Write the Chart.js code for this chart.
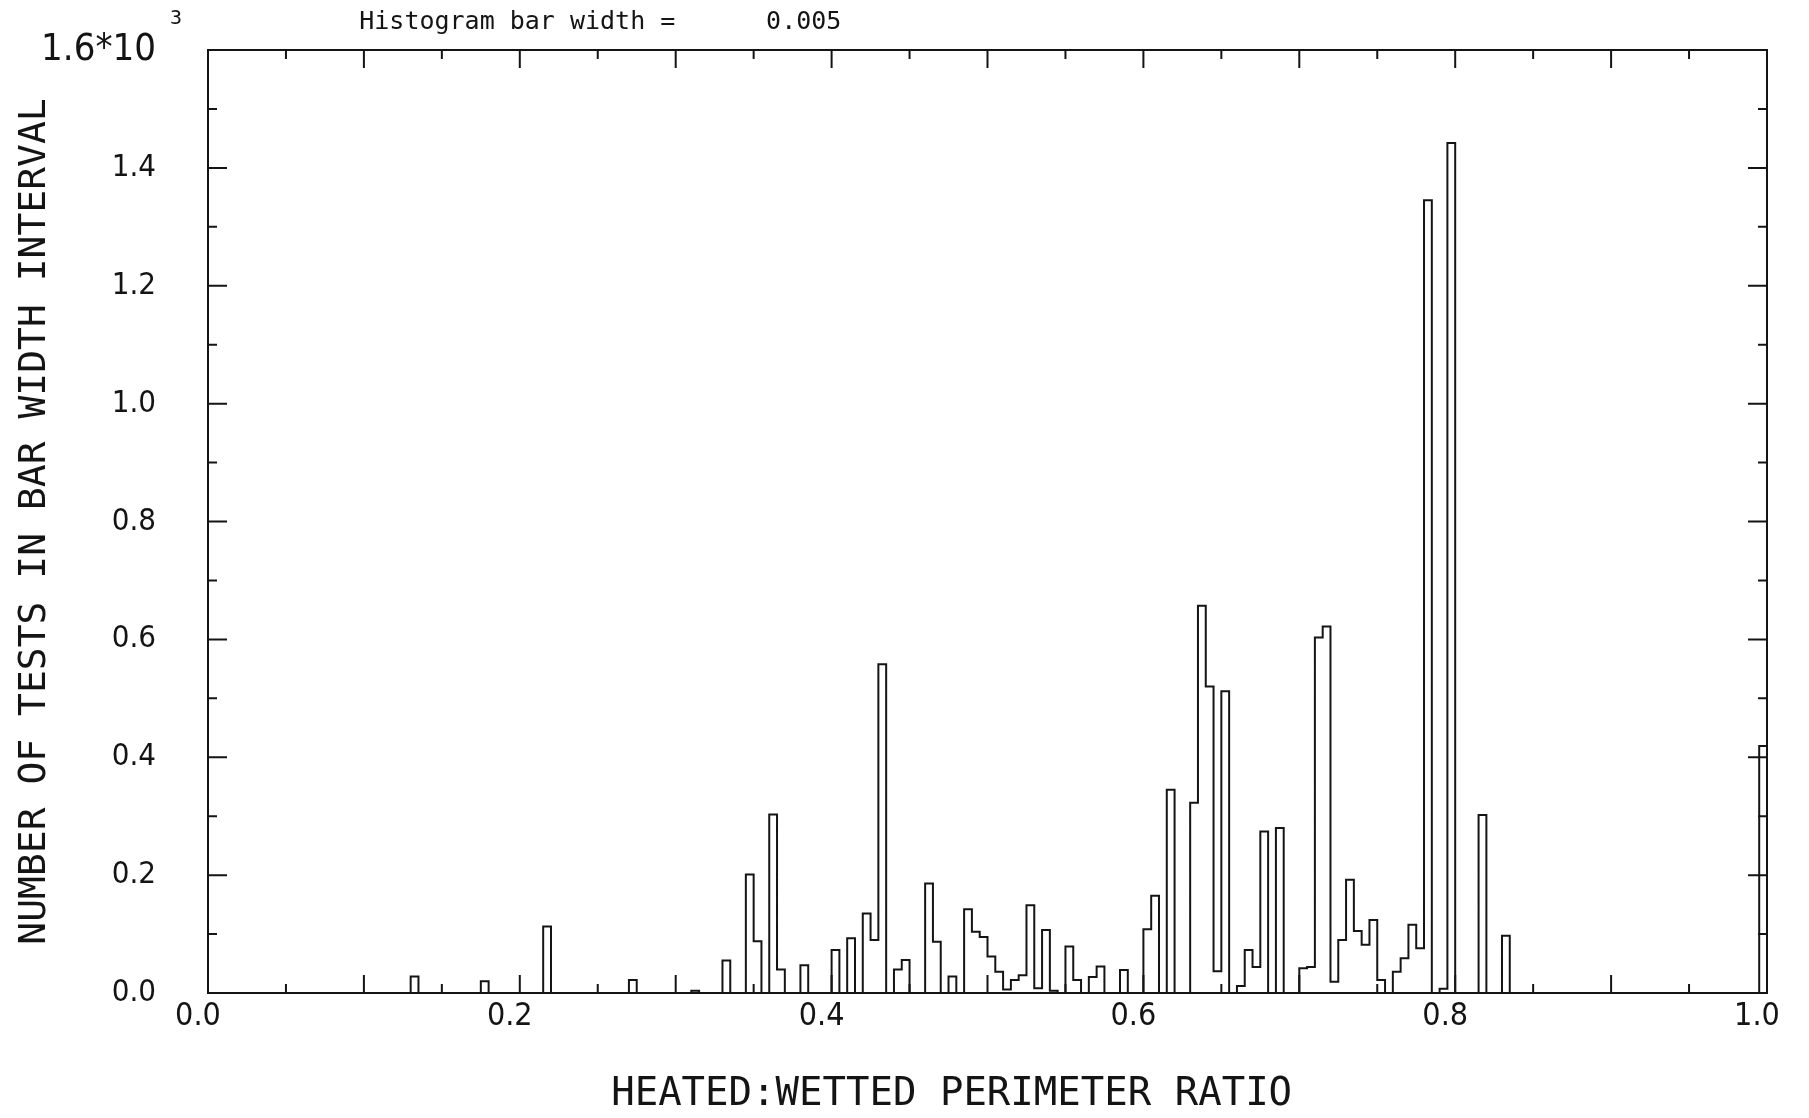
<!DOCTYPE html>
<html><head><meta charset="utf-8">
<script src="https://cdn.jsdelivr.net/npm/chart.js@4.4.0/dist/chart.umd.min.js"></script>
<style>html,body{margin:0;padding:0;background:#fff;}#wrap{width:1809px;height:1118px;}</style>
</head><body><div id="wrap"><canvas id="c" width="1809" height="1118"></canvas></div>
<script>
// ---- data (counts in units of 10^3 tests per 0.005-wide bin) ----
const binWidth = 0.005;
const binLeft = [0.130,0.175,0.215,0.270,0.310,0.330,0.345,0.350,0.360,0.365,0.380,0.400,0.410,0.420,0.425,0.430,0.440,0.445,0.460,0.465,0.475,0.485,0.490,0.495,0.500,0.505,0.510,0.515,0.520,0.525,0.530,0.535,0.540,0.550,0.555,0.565,0.570,0.585,0.600,0.605,0.615,0.630,0.635,0.640,0.645,0.650,0.660,0.665,0.670,0.675,0.685,0.700,0.705,0.710,0.715,0.720,0.725,0.730,0.735,0.740,0.745,0.750,0.760,0.765,0.770,0.775,0.780,0.790,0.795,0.815,0.830,0.995];
const counts  = [0.028,0.020,0.113,0.022,0.004,0.055,0.201,0.088,0.303,0.040,0.047,0.073,0.093,0.135,0.090,0.558,0.040,0.056,0.186,0.087,0.028,0.142,0.104,0.095,0.062,0.036,0.006,0.022,0.030,0.149,0.008,0.107,0.004,0.079,0.022,0.027,0.045,0.039,0.108,0.165,0.345,0.323,0.657,0.520,0.037,0.512,0.012,0.073,0.044,0.274,0.280,0.042,0.044,0.603,0.622,0.019,0.090,0.192,0.105,0.082,0.124,0.022,0.036,0.059,0.116,0.076,1.345,0.007,1.442,0.302,0.097,0.419];
const xMin = 0.0, xMax = 1.0, yMin = 0.0, yMax = 1.6;
const xTickValues = [0.0,0.2,0.4,0.6,0.8,1.0];
const xTickLabels = ['0.0','0.2','0.4','0.6','0.8','1.0'];
const yTickValues = [0.0,0.2,0.4,0.6,0.8,1.0,1.2,1.4,1.6];
const yTickLabels = ['0.0','0.2','0.4','0.6','0.8','1.0','1.2','1.4','1.6*10'];
const xMarkValues = [0.05,0.10,0.15,0.20,0.25,0.30,0.35,0.40,0.45,0.50,0.55,0.60,0.65,0.70,0.75,0.80,0.85,0.90,0.95];
const xMajorMarks = [0.10,0.20,0.30,0.40,0.50,0.60,0.70,0.80,0.90];
const yMarkValues = [0.1,0.2,0.3,0.4,0.5,0.6,0.7,0.8,0.9,1.0,1.1,1.2,1.3,1.4,1.5];
const yMajorMarks = [0.2,0.4,0.6,0.8,1.0,1.2,1.4];
const xTitle = 'HEATED:WETTED PERIMETER RATIO';
const yTitle = 'NUMBER OF TESTS IN BAR WIDTH INTERVAL';
const noteText = 'Histogram bar width =';
const noteValue = '0.005';
const yExponent = '3';

// ---- build step outline from the bins (empty bins are zero) ----
const nBins = Math.round((xMax - xMin) / binWidth);
const dense = new Array(nBins).fill(0);
binLeft.forEach((b, i) => { dense[Math.round((b - xMin) / binWidth)] = counts[i]; });
const stepPoints = dense.map((v, k) => ({x: xMin + k * binWidth, y: v}));
stepPoints.push({x: xMax, y: 0});

const INK = '#141414';
const narrow = "'Liberation Sans Narrow','DejaVu Sans Condensed','Roboto Condensed','DejaVu Sans Mono',monospace";
const mono = "'DejaVu Sans Mono','Liberation Mono',monospace";

const framePlugin = {
  id: 'frame',
  afterDatasetsDraw(chart) {
    const {ctx, chartArea: a, scales: {x, y}} = chart;
    ctx.save();
    ctx.strokeStyle = INK;
    ctx.lineWidth = 2;
    ctx.strokeRect(a.left, a.top, a.right - a.left, a.bottom - a.top);
    ctx.beginPath();
    xMarkValues.forEach(v => {
      const px = x.getPixelForValue(v);
      const len = xMajorMarks.some(m => Math.abs(m - v) < 1e-9) ? 18 : 9;
      ctx.moveTo(px, a.bottom); ctx.lineTo(px, a.bottom - len);
      ctx.moveTo(px, a.top); ctx.lineTo(px, a.top + len);
    });
    yMarkValues.forEach(v => {
      const py = y.getPixelForValue(v);
      const len = yMajorMarks.some(m => Math.abs(m - v) < 1e-9) ? 19 : 9;
      ctx.moveTo(a.left, py); ctx.lineTo(a.left + len, py);
      ctx.moveTo(a.right, py); ctx.lineTo(a.right - len, py);
    });
    ctx.stroke();
    ctx.fillStyle = INK;
    // note at top and exponent
    ctx.textBaseline = 'alphabetic';
    ctx.textAlign = 'left';
    ctx.font = "25px " + mono;
    ctx.fillText(noteText, x.getPixelForValue(0.097), 29);
    ctx.fillText(noteValue, x.getPixelForValue(0.358), 29);
    ctx.font = "20px " + mono;
    ctx.fillText(yExponent, a.left - 38, 24);
    // x-axis title (placed slightly left of centre, as in the original plot)
    ctx.textAlign = 'center';
    ctx.textBaseline = 'middle';
    ctx.font = "39px " + mono;
    ctx.fillText(xTitle, x.getPixelForValue(0.477), 1095);
    ctx.restore();
  }
};

new Chart(document.getElementById('c'), {
  type: 'line',
  data: {
    datasets: [{
      data: stepPoints,
      stepped: true,
      borderColor: INK,
      borderWidth: 2,
      pointRadius: 0,
      fill: false,
      tension: 0
    }]
  },
  options: {
    responsive: false,
    devicePixelRatio: 1,
    animation: false,
    layout: {padding: {left: 0, right: 42, top: 50, bottom: 0}},
    plugins: {legend: {display: false}, tooltip: {enabled: false}},
    scales: {
      x: {
        type: 'linear', min: xMin, max: xMax,
        afterBuildTicks: s => { s.ticks = xTickValues.map(v => ({value: v})); },
        afterFit: s => { s.height = 125; s.paddingLeft = 0; s.paddingRight = 20; },
        grid: {display: false, drawTicks: false},
        border: {display: false},
        ticks: {
          callback: (v, i) => xTickLabels[i],
          color: INK, padding: 4, labelOffset: -10, maxRotation: 0,
          font: {family: narrow, size: 32}
        },
        title: {display: false, text: xTitle}
      },
      y: {
        type: 'linear', min: yMin, max: yMax,
        afterBuildTicks: s => { s.ticks = yTickValues.map(v => ({value: v})); },
        afterFit: s => { s.width = 208; s.paddingTop = 10; s.paddingBottom = 10; },
        grid: {display: false, drawTicks: false},
        border: {display: false},
        ticks: {
          callback: (v, i) => yTickLabels[i],
          color: INK, padding: 52,
          font: ctx => ({family: narrow, size: (ctx.tick && ctx.tick.value === yMax) ? 38 : 31})
        },
        title: {display: true, text: yTitle, color: INK, padding: {top: 12, bottom: 0},
                font: {family: mono, size: 38}}
      }
    }
  },
  plugins: [framePlugin]
});
</script></body></html>
